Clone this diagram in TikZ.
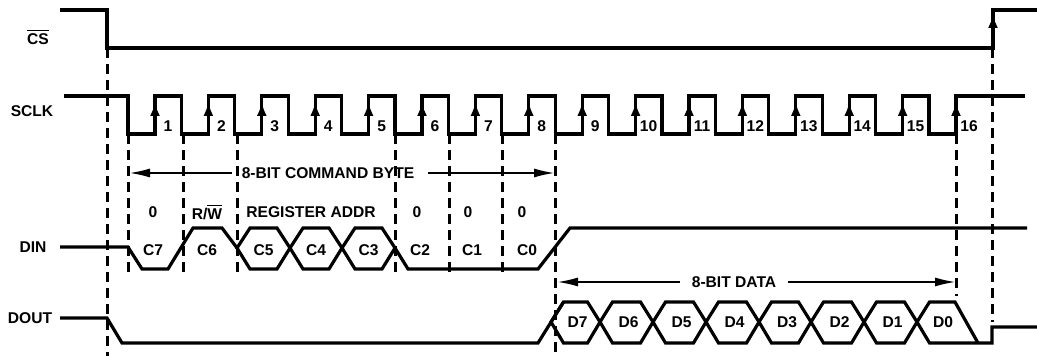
\documentclass[tikz,border=0pt]{standalone}
\usepackage{fontspec}
\setmainfont{Liberation Sans}
\usetikzlibrary{arrows.meta}

\begin{document}
\begin{tikzpicture}[x=0.5pt,y=-0.5pt,
  sig/.style={line width=1.6pt},
  guide/.style={line width=1.5pt,dash pattern=on 5pt off 3pt},
  span/.style={line width=0.6pt,-{Latex[length=10pt,width=4.5pt]}},
  edgearr/.style={line width=1.6pt,-{Latex[length=7pt,width=5pt]}},
  lbl/.style={font=\bfseries\fontsize{7.8}{9}\selectfont,inner sep=2.5pt}]
  \useasboundingbox (0,0) rectangle (1037,356);
  % signal names
  \node[lbl] (cs) at (38,37) {$\overline{\hbox{CS}}$};
  \node[lbl] (sclk) at (32,111) {SCLK};
  \node[lbl] (din) at (33,247) {DIN};
  \node[lbl] (dout) at (30,318) {DOUT};
  % guide lines
  \draw[guide] (107,48) -- (107,356);
  \foreach \x/\y in {128/273,183/273,237/275,395/277,449/277,502/277,555/356,956/296}
    \draw[guide] (\x,134) -- (\x,\y);
  \draw[guide] (992,48) -- (992,322);
  % chip select
  \draw[sig] (60,10) -- (107,10) -- (107,48) -- (993,48) -- (993,10) -- (1037,10);
  \draw[edgearr] (993,48) -- (993,14);
  % serial clock
  \draw[sig] (64,96) -| (128,134)
    \foreach \k in {0,...,14} { -| ({155+53.4*\k},96) -| ({128+53.4*(\k+1)},134) }
    -| (956,96) -- (1025,96);
  \foreach \k in {1,...,16} {
    \draw[edgearr] ({155+53.4*(\k-1)},134) -- ({155+53.4*(\k-1)},102);
    \node[lbl] (clk\k) at ({168+53.4*(\k-1)},126) {\k};
  }
  % command byte
  \coordinate (cmdL) at (130,173);
  \coordinate (cmdR) at (554,173);
  \node[lbl] (cmd) at (328,173) {8-BIT COMMAND BYTE};
  \draw[span] ([xshift=-2pt]cmd.west) -- (cmdL);
  \draw[span] ([xshift=4pt]cmd.east) -- (cmdR);
  \node[lbl] (b7) at (153,212) {0};
  \node[lbl] (b6) at (207,212) {R/$\overline{\hbox{W}}$};
  \node[lbl] (addr) at (311,212) {REGISTER ADDR};
  \node[lbl] (b2) at (417,212) {0};
  \node[lbl] (b1) at (468,212) {0};
  \node[lbl] (b0) at (522,212) {0};
  % data in
  \draw[sig] (60,247) -- (128,247) -- (142,269) -- (168,269) -- (193,228) -- (222,228) -- (237,248);
  \foreach \a/\b/\t in {237/290/C5,290/342/C4,342/395/C3} {
    \draw[sig] (\a,248) -- ({\a+13},228) -- ({\b-13},228) -- (\b,248)
      -- ({\b-13},269) -- ({\a+13},269) -- cycle;
    \node[lbl] (\t) at ({(\a+\b)/2},250) {\t};
  }
  \draw[sig] (395,248) -- (408,269) -- (538,269) -- (570,228) -- (1027,228);
  \node[lbl] (C7) at (153,250) {C7};
  \node[lbl] (C6) at (207,250) {C6};
  \node[lbl] (C2) at (420,250) {C2};
  \node[lbl] (C1) at (472,250) {C1};
  \node[lbl] (C0) at (527,250) {C0};
  % data byte
  \coordinate (datL) at (558,282);
  \coordinate (datR) at (955,282);
  \node[lbl] (dat) at (734,282) {8-BIT DATA};
  \draw[span] ([xshift=-3pt]dat.west) -- (datL);
  \draw[span] ([xshift=3pt]dat.east) -- (datR);
  % data out
  \draw[sig] (60,318) -- (107,318) -- (122,343) -- (538,343) -- (563.5,302);
  \foreach \a/\b/\t in {551/600/D7,600/653/D6,653/706/D5,706/759/D4,759/811/D3,811/864/D2,864/917/D1} {
    \draw[sig] (\a,322) -- ({\a+12.5},302) -- ({\b-12.5},302) -- (\b,322)
      -- ({\b-12.5},343) -- ({\a+12.5},343) -- cycle;
    \node[lbl] (\t) at ({(\a+\b)/2+2},322) {\t};
  }
  \draw[sig] (917,322) -- (929.5,302) -- (955,302) -- (978,343);
  \draw[sig] (917,322) -- (929.5,343) -- (992,343) -- (992,327) -- (1037,327);
  \node[lbl] (D0) at (943,322) {D0};
\end{tikzpicture}
\end{document}
